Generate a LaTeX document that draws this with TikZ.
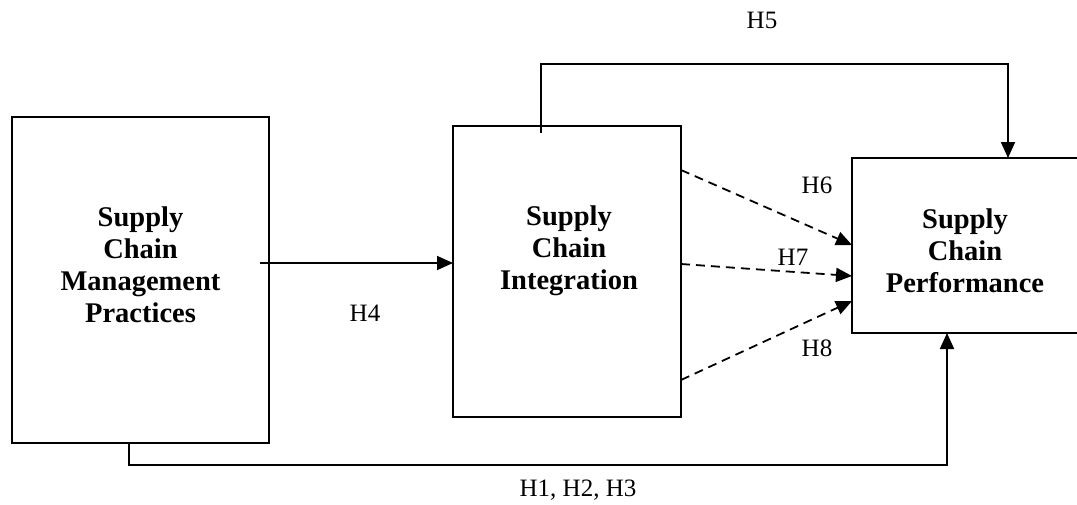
\documentclass[tikz,border=0pt]{standalone}
\usepackage{fontspec}
\setmainfont{Liberation Serif}
\usetikzlibrary{arrows.meta}
\tikzset{
  box/.style={draw, line width=0.9pt, inner sep=0pt, outer sep=0pt},
  boxtext/.style={align=center, font=\fontsize{14.25pt}{16pt}\selectfont\bfseries, inner sep=0pt},
  lbl/.style={font=\fontsize{12.5pt}{14pt}\selectfont, inner sep=0pt},
  arr/.style={line width=0.9pt, -{Triangle[length=8pt,width=7pt]}},
  darr/.style={arr, dash pattern=on 4.5pt off 3pt},
}
\begin{document}
\begin{tikzpicture}[x=0.5pt,y=-0.5pt]
\useasboundingbox (0,0) rectangle (1077,504);
% boxes
\node[box, minimum width=128.5pt, minimum height=163pt] (b1) at (140.5,280) {};
\node[box, minimum width=114pt, minimum height=145.5pt] (b2) at (567,271.5) {};
\node[box, minimum width=113pt, minimum height=87.5pt] (b3) at (965,245.5) {};
% box texts
\node[boxtext] (t1) at (140.5,265) {Supply\\Chain\\Management\\Practices};
\node[boxtext] (t2) at (569,251) {Supply\\Chain\\Integration};
\node[boxtext] (t3) at (965,251) {Supply\\Chain\\Performance};
% coordinates
\coordinate (h4s) at (260,263);
\coordinate (h5s) at (541,133);
\coordinate (h5c) at (1008,64);
\coordinate (h1s) at (129,444);
\coordinate (h1c) at (947,465);
\coordinate (d1s) at (681,170);
\coordinate (d1e) at (852,245);
\coordinate (d2s) at (681,264);
\coordinate (d2e) at (852,276);
\coordinate (d3s) at (681,380);
\coordinate (d3e) at (852,301);
% connectors
\draw[arr] (h4s) -- (h4s -| b2.west);
\draw[arr] (h5s) |- (h5c) -- (h5c |- b3.north);
\draw[arr] (h1s) |- (h1c) -- (h1c |- b3.south);
\draw[darr] (d1s -| b2.east) -- (d1e -| b3.west);
\draw[darr] (d2s -| b2.east) -- (d2e -| b3.west);
\draw[darr] (d3s -| b2.east) -- (d3e -| b3.west);
% labels
\node[lbl] (l5) at (762,20) {H5};
\node[lbl] (l4) at (365,313) {H4};
\node[lbl] (l6) at (817,185) {H6};
\node[lbl] (l7) at (793,257) {H7};
\node[lbl] (l8) at (817,348) {H8};
\node[lbl] (l1) at (578,490) {H1, H2, H3};
\end{tikzpicture}
\end{document}
